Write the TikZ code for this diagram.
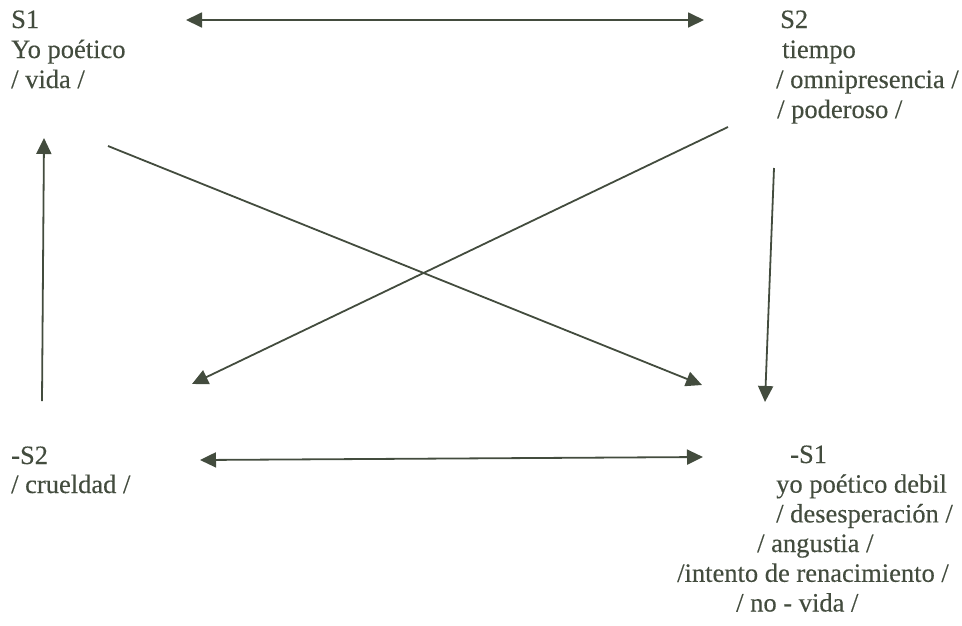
\documentclass[tikz,border=0pt]{standalone}
\usepackage{fontspec}
\setmainfont[FakeBold=0.3]{Liberation Serif}
\usetikzlibrary{arrows.meta}
\definecolor{ink}{HTML}{434C3E}
\tikzset{
  lbl/.style={anchor=base west, inner sep=0pt, text=ink, font=\fontsize{26.5}{30}\selectfont},
  conn/.style={draw=ink, line width=1.8pt, -{Triangle[length=16pt,width=15pt]}},
  dconn/.style={draw=ink, line width=1.8pt, {Triangle[length=16pt,width=15pt]}-{Triangle[length=16pt,width=15pt]}}
}
\begin{document}
\begin{tikzpicture}[x=1pt,y=-1pt]
\useasboundingbox (0,0) rectangle (962,625);
% S1
\node[lbl] (s1a) at (11,28) {S1};
\node[lbl] (s1b) at (11,58) {Yo poético};
\node[lbl] (s1c) at (11,88) {/ vida /};
% S2
\node[lbl] (s2a) at (780,28) {S2};
\node[lbl] (s2b) at (782,58) {tiempo};
\node[lbl] (s2c) at (776,88) {/ omnipresencia /};
\node[lbl] (s2d) at (777,118) {/ poderoso /};
% -S2
\node[lbl] (ns2a) at (11,464) {-S2};
\node[lbl] (ns2b) at (11,493) {/ crueldad /};
% -S1
\node[lbl] (ns1a) at (790,463) {-S1};
\node[lbl] (ns1b) at (776,492.7) {yo poético debil};
\node[lbl] (ns1c) at (776,522.4) {/ desesperación /};
\node[lbl] (ns1d) at (757,552) {/ angustia /};
\node[lbl] (ns1e) at (677,581.8) {/intento de renacimiento /};
\node[lbl] (ns1f) at (736,611.5) {/ no - vida /};
% connector ends
\coordinate (tl) at (186,20);
\coordinate (tr) at (704,20);
\coordinate (bl) at (200,460);
\coordinate (br) at (703,457);
\coordinate (lvb) at (42,401);
\coordinate (lvt) at (44,138);
\coordinate (rvt) at (774,168);
\coordinate (rvb) at (765,402);
\coordinate (c1s) at (108,146);
\coordinate (c1e) at (702,385);
\coordinate (c2s) at (728,127);
\coordinate (c2e) at (192,384);
% connectors
\draw[dconn] (tl) -- (tr);
\draw[dconn] (bl) -- (br);
\draw[conn] (lvb) -- (lvt);
\draw[conn] (rvt) -- (rvb);
\draw[conn] (c1s) -- (c1e);
\draw[conn] (c2s) -- (c2e);
\end{tikzpicture}
\end{document}
